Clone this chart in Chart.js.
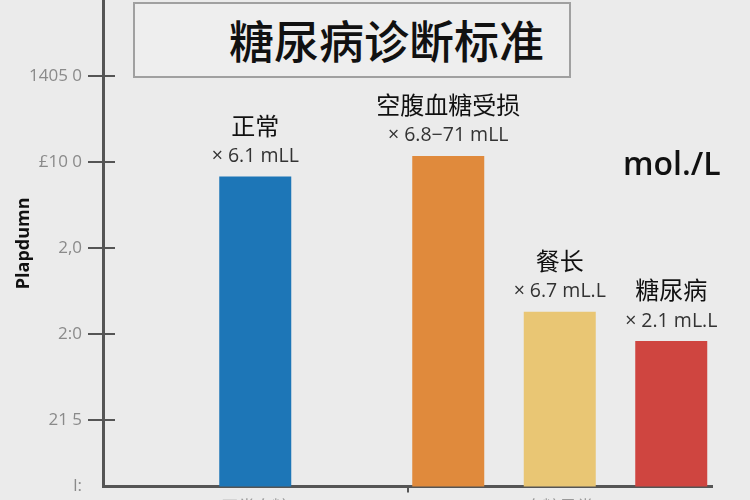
<!DOCTYPE html>
<html>
<head>
<meta charset="utf-8">
<script src="https://cdn.jsdelivr.net/npm/chart.js@4.4.1/dist/chart.umd.min.js"></script>
<style>
  html, body { margin: 0; padding: 0; background: #ebebeb; overflow: hidden; width: 750px; height: 500px; }
  #wrap { position: relative; width: 750px; height: 530px; }
  #title {
    position: absolute; left: 133px; top: 2px; width: 434px; height: 72px;
    border: 2px solid #a0a0a0; background: #eeeeee; z-index: 2;
    font-family: "Noto Sans CJK SC", sans-serif; font-size: 45px; font-weight: 500; color: #111;
    line-height: 72px; box-sizing: content-box;
  }
  #title span { position: absolute; left: 94px; top: 0px; }
  #unit {
    position: absolute; left: 623px; top: 141px; z-index: 2;
    font-family: "Open Sans", sans-serif; font-weight: 600; font-size: 32px; color: #111;
  }
</style>
</head>
<body>
<div id="wrap">
  <div id="title"><span>糖尿病诊断标准</span></div>
  <div id="unit">mol./L</div>
  <canvas id="c" width="750" height="530"></canvas>
</div>
<script>
// ---- data ----
const categories = ['正常血糖', '血糖异常'];
const seriesNames = ['正常', '空腹血糖受损', '餐长', '糖尿病'];
const seriesCategory = [0, 1, 1, 1];
const barValues = [3.83, 4.07, 2.26, 1.92];
const valueTexts = ['× 6.1 mLL', '× 6.8−71 mLL', '× 6.7 mL.L', '× 2.1 mL.L'];
const barColors = ['#1d76b7', '#e08a3c', '#e9c674', '#cf4540'];
const yTickValues = [0.23, 1, 2, 3, 4, 5];
const yTickLabels = ['l:', '21 5', '2:0', '2,0', '£10 0', '1405 0'];
const yMin = 0.23, yMax = 5.88;

const datasets = seriesNames.map((name, i) => ({
  label: name,
  data: categories.map((_, ci) => ci === seriesCategory[i] ? barValues[i] : null),
  backgroundColor: barColors[i],
  borderWidth: 0,
  skipNull: true,
  categoryPercentage: 1.0985,
  barPercentage: 0.65,
  maxBarThickness: 72
}));

const axisColor = '#555555';

const innerTicks = {
  id: 'innerTicks',
  afterDraw(chart) {
    const ctx = chart.ctx, y = chart.scales.y, a = chart.chartArea;
    ctx.save();
    ctx.strokeStyle = axisColor;
    ctx.lineWidth = 2;
    yTickValues.forEach((v, i) => {
      if (i === 0) return;
      const py = Math.round(y.getPixelForValue(v));
      ctx.beginPath();
      ctx.moveTo(a.left, py);
      ctx.lineTo(a.left + 12, py);
      ctx.stroke();
    });
    ctx.restore();
  }
};

const barLabels = {
  id: 'barLabels',
  afterDatasetsDraw(chart) {
    const ctx = chart.ctx;
    ctx.save();
    ctx.textAlign = 'center';
    ctx.textBaseline = 'middle';
    chart.data.datasets.forEach((ds, i) => {
      const meta = chart.getDatasetMeta(i);
      meta.data.forEach((el, j) => {
        if (ds.data[j] == null) return;
        ctx.fillStyle = '#111';
        ctx.font = '400 24px "Noto Sans CJK SC", sans-serif';
        ctx.fillText(ds.label, el.x, el.y - 51);
        ctx.fillStyle = '#333';
        ctx.font = '19.5px "Open Sans", sans-serif';
        ctx.fillText(valueTexts[i], el.x, el.y - 20);
      });
    });
    ctx.restore();
  }
};

new Chart(document.getElementById('c'), {
  type: 'bar',
  data: { labels: categories, datasets },
  options: {
    responsive: false,
    animation: false,
    layout: { padding: { top: 0, right: 38, bottom: 9, left: 0 } },
    plugins: { legend: { display: false }, tooltip: { enabled: false } },
    scales: {
      x: {
        afterFit(scale) { scale.paddingLeft = 0; scale.paddingRight = 0; },
        border: { display: true, color: axisColor, width: 3 },
        grid: {
          display: true, drawOnChartArea: false, tickLength: 6, lineWidth: 2,
          color: (c) => c.index === 1 ? axisColor : 'rgba(0,0,0,0)'
        },
        ticks: { color: '#999', padding: 4, font: { family: '"Noto Sans CJK SC", sans-serif', size: 17 } }
      },
      y: {
        min: yMin, max: yMax,
        afterBuildTicks(scale) { scale.ticks = yTickValues.map(v => ({ value: v })); },
        afterFit(scale) { scale.width = 103; scale.paddingTop = 0; scale.paddingBottom = 0; },
        border: { display: true, color: axisColor, width: 3 },
        grid: {
          display: true, drawOnChartArea: false, tickLength: 15, lineWidth: 2,
          color: (c) => c.index === 0 ? 'rgba(0,0,0,0)' : axisColor
        },
        ticks: {
          color: '#8a8a8a', padding: 6,
          font: { family: '"Open Sans", sans-serif', size: 17 },
          callback: (v, i) => yTickLabels[i]
        },
        title: {
          display: true, text: 'Plapdumn', color: '#111',
          font: { family: '"Open Sans", sans-serif', size: 18, weight: 'bold' },
          padding: { top: 13, bottom: 0 }
        }
      }
    }
  },
  plugins: [innerTicks, barLabels]
});
</script>
</body>
</html>
